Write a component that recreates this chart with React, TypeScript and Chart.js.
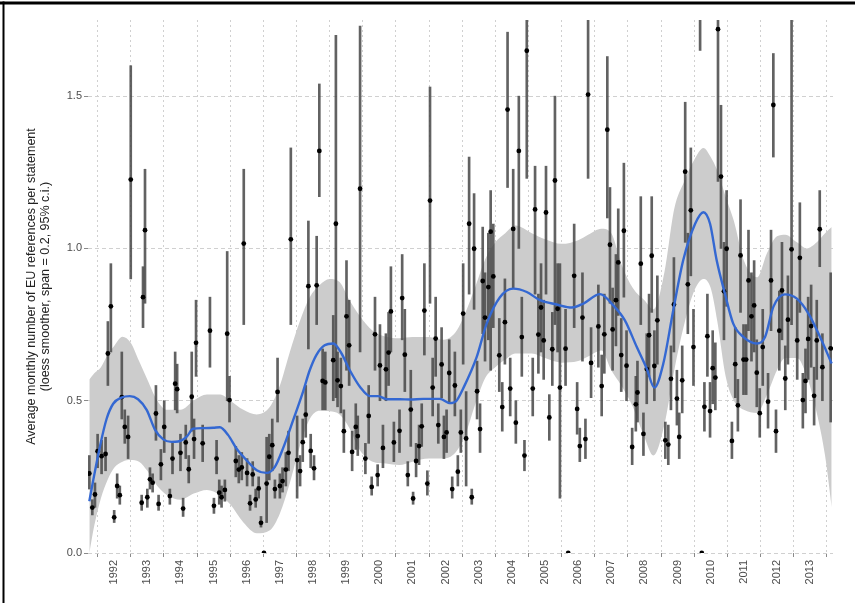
import React, { useEffect, useRef } from "react";
import { Chart, registerables } from "chart.js";

Chart.register(...registerables);

// Monthly observations (decimal year), mean and 95% interval
const years = [
  1991.25, 1991.34, 1991.42, 1991.5, 1991.62, 1991.74, 1991.81, 1991.9,
  1992.0, 1992.09, 1992.17, 1992.23, 1992.32, 1992.42, 1992.5, 1992.83, 1992.87, 1992.93,
  1993.0, 1993.08, 1993.16, 1993.26, 1993.34, 1993.41, 1993.51, 1993.68, 1993.76, 1993.84, 1993.9,
  1994.0, 1994.08, 1994.16, 1994.25, 1994.34, 1994.41, 1994.47, 1994.67, 1994.89,
  1995.01, 1995.09, 1995.17, 1995.24, 1995.34, 1995.41, 1995.48, 1995.67, 1995.76, 1995.85, 1995.91,
  1996.01, 1996.1, 1996.18, 1996.27, 1996.36, 1996.43, 1996.52, 1996.6, 1996.68, 1996.77, 1996.85, 1996.93,
  1997.0, 1997.08, 1997.18, 1997.26, 1997.33, 1997.52, 1997.61, 1997.69, 1997.78, 1997.86, 1997.93,
  1998.03, 1998.11, 1998.19, 1998.29, 1998.37, 1998.61, 1998.69, 1998.74, 1998.84, 1998.93,
  1999.01, 1999.09, 1999.18, 1999.29, 1999.35, 1999.42, 1999.58, 1999.68, 1999.77, 1999.87, 1999.95,
  2000.02, 2000.11, 2000.2, 2000.28, 2000.35, 2000.44, 2000.61, 2000.69, 2000.77, 2000.86, 2000.95,
  2001.02, 2001.11, 2001.2, 2001.28, 2001.36, 2001.45, 2001.53, 2001.61, 2001.7, 2001.78, 2001.88, 2001.95,
  2002.03, 2002.11, 2002.2, 2002.28, 2002.37, 2002.46, 2002.53, 2002.62, 2002.71, 2002.79, 2002.86, 2002.95,
  2003.04, 2003.12, 2003.19, 2003.29, 2003.36, 2003.44, 2003.62, 2003.71, 2003.79, 2003.87, 2003.95,
  2004.04, 2004.12, 2004.21, 2004.3, 2004.38, 2004.45, 2004.63, 2004.7, 2004.8, 2004.88, 2004.96,
  2005.03, 2005.13, 2005.22, 2005.3, 2005.38, 2005.45, 2005.62, 2005.7, 2005.88, 2005.97,
  2006.05, 2006.13, 2006.22, 2006.3, 2006.39, 2006.61, 2006.71, 2006.79, 2006.88, 2006.96,
  2007.04, 2007.14, 2007.21, 2007.3, 2007.38, 2007.46, 2007.63, 2007.74, 2007.79, 2007.89, 2007.97,
  2008.07, 2008.14, 2008.22, 2008.3, 2008.39, 2008.63, 2008.72, 2008.8, 2008.89, 2008.98,
  2009.05, 2009.14, 2009.23, 2009.31, 2009.4, 2009.48, 2009.68, 2009.73, 2009.81, 2009.9, 2009.98,
  2010.06, 2010.14, 2010.22, 2010.31, 2010.4, 2010.48, 2010.64, 2010.74, 2010.82, 2010.9, 2010.99,
  2011.07, 2011.14, 2011.23, 2011.31, 2011.39, 2011.48, 2011.57, 2011.73, 2011.82, 2011.89, 2011.97,
  2012.07, 2012.15, 2012.25, 2012.33, 2012.44, 2012.61, 2012.69, 2012.78, 2012.86, 2012.94,
  2013.03, 2013.12, 2013.2, 2013.29, 2013.37, 2013.62,
];

const means = [
  0.261, 0.149, 0.192, 0.334, 0.318, 0.325, 0.655, 0.81,
  0.117, 0.22, 0.19, 0.512, 0.414, 0.381, 1.226, 0.165, 0.84, 1.06,
  0.183, 0.242, 0.231, 0.458, 0.161, 0.291, 0.414, 0.187, 0.31, 0.556, 0.538,
  0.329, 0.146, 0.363, 0.275, 0.513, 0.374, 0.69, 0.36, 0.73,
  0.155, 0.31, 0.198, 0.183, 0.207, 0.72, 0.502, 0.302, 0.274, 0.281, 1.016,
  0.263, 0.163, 0.258, 0.176, 0.212, 0.099, 0.0, 0.228, 0.316, 0.354, 0.21, 0.529,
  0.22, 0.236, 0.274, 0.329, 1.03, 0.305, 0.269, 0.364, 0.454, 0.876, 0.335,
  0.278, 0.879, 1.32, 0.565, 0.56, 0.633, 1.081, 0.567, 0.548, 0.4,
  0.777, 0.682, 0.332, 0.414, 0.384, 1.196, 0.31, 0.45, 0.217, 0.718, 0.256,
  0.616, 0.345, 0.603, 0.658, 0.793, 0.363, 0.401, 0.837, 0.651, 0.256, 0.471,
  0.179, 0.302, 0.351, 0.416, 0.796, 0.228, 1.157, 0.543, 0.704, 0.42, 0.619, 0.381,
  0.396, 0.591, 0.21, 0.55, 0.267, 0.396, 0.786, 0.376, 1.081, 0.183, 0.999, 0.531,
  0.407, 0.893, 0.773, 0.873, 1.055, 0.908, 0.649, 0.479, 0.758, 1.456, 0.54,
  1.064, 0.428, 1.32, 0.709, 0.32, 1.649, 0.54, 1.128, 0.717, 0.806, 0.698,
  1.118, 0.445, 0.669, 1.223, 0.802, 0.543, 0.671, 0.0, 0.91, 0.473,
  0.351, 0.773, 0.374, 1.505, 0.624, 0.744, 0.548, 0.718, 1.39, 1.012,
  0.734, 0.83, 0.954, 0.65, 1.058, 0.615, 0.348, 0.488, 0.527, 0.95, 0.391,
  0.604, 0.715, 0.976, 0.614, 0.764, 0.37, 0.356, 0.572, 0.816, 0.507,
  0.381, 0.567, 1.252, 0.882, 1.125, 0.676, 1.8, 0.0, 0.48, 0.712, 0.466,
  0.607, 0.576, 1.72, 1.236, 0.859, 0.999, 0.368, 0.62, 0.485, 0.977, 0.635,
  0.635, 0.895, 0.777, 0.813, 0.592, 0.459, 0.676, 0.497, 0.895, 1.471, 0.4,
  0.73, 0.862, 0.573, 0.766, 0.997, 0.698, 0.969, 0.502, 0.565, 0.703,
  0.745, 0.516, 0.698, 1.063, 0.61, 0.672,
];

const lowers = [
  0.21, 0.125, 0.15, 0.28, 0.26, 0.27, 0.55, 0.66,
  0.1, 0.18, 0.16, 0.44, 0.36, 0.31, 0.9, 0.14, 0.74, 0.82,
  0.15, 0.21, 0.2, 0.37, 0.14, 0.24, 0.33, 0.16, 0.26, 0.47, 0.46,
  0.27, 0.12, 0.31, 0.23, 0.4, 0.31, 0.58, 0.3, 0.61,
  0.13, 0.26, 0.16, 0.15, 0.17, 0.5, 0.43, 0.25, 0.23, 0.24, 0.75,
  0.22, 0.14, 0.22, 0.15, 0.18, 0.085, 0.0, 0.1, 0.24, 0.27, 0.18, 0.43,
  0.18, 0.2, 0.22, 0.27, 0.75, 0.18, 0.22, 0.3, 0.38, 0.67, 0.28,
  0.24, 0.75, 1.17, 0.47, 0.47, 0.5, 0.51, 0.48, 0.46, 0.33,
  0.6, 0.55, 0.27, 0.34, 0.32, 0.66, 0.26, 0.36, 0.19, 0.6, 0.22,
  0.5, 0.28, 0.5, 0.55, 0.66, 0.3, 0.33, 0.7, 0.53, 0.22, 0.35,
  0.16, 0.25, 0.29, 0.35, 0.65, 0.19, 0.82, 0.45, 0.58, 0.36, 0.51, 0.31,
  0.33, 0.49, 0.18, 0.45, 0.22, 0.33, 0.62, 0.22, 0.85, 0.16, 0.8, 0.44,
  0.33, 0.72, 0.63, 0.7, 0.6, 0.74, 0.53, 0.4, 0.62, 1.2, 0.45,
  0.87, 0.36, 1.0, 0.58, 0.27, 1.23, 0.45, 0.85, 0.59, 0.66, 0.57,
  0.85, 0.37, 0.55, 0.75, 0.66, 0.18, 0.55, 0.0, 0.74, 0.39,
  0.3, 0.63, 0.31, 1.23, 0.51, 0.61, 0.45, 0.59, 1.1, 0.82,
  0.6, 0.68, 0.78, 0.53, 0.84, 0.5, 0.29, 0.4, 0.43, 0.75, 0.32,
  0.49, 0.58, 0.79, 0.5, 0.62, 0.31, 0.29, 0.47, 0.66, 0.42,
  0.31, 0.46, 1.02, 0.72, 0.91, 0.55, 1.65, 0.0, 0.4, 0.58, 0.38,
  0.49, 0.47, 1.22, 1.0, 0.7, 0.81, 0.31, 0.51, 0.4, 0.79, 0.52,
  0.52, 0.73, 0.63, 0.66, 0.48, 0.38, 0.55, 0.41, 0.73, 1.3, 0.33,
  0.6, 0.7, 0.47, 0.62, 0.75, 0.57, 0.79, 0.41, 0.46, 0.57,
  0.61, 0.42, 0.57, 0.94, 0.5, 0.43,
];

const uppers = [
  0.32, 0.175, 0.23, 0.39, 0.37, 0.38, 0.76, 0.95,
  0.14, 0.26, 0.22, 0.66, 0.47, 0.45, 1.6, 0.19, 0.94, 1.26,
  0.21, 0.28, 0.26, 0.55, 0.19, 0.34, 0.5, 0.21, 0.36, 0.66, 0.62,
  0.39, 0.18, 0.42, 0.32, 0.66, 0.44, 0.83, 0.42, 0.84,
  0.18, 0.37, 0.24, 0.22, 0.24, 0.99, 0.58, 0.35, 0.32, 0.33, 1.26,
  0.31, 0.19, 0.3, 0.21, 0.25, 0.12, 0.0, 0.38, 0.39, 0.44, 0.24, 0.64,
  0.26, 0.28, 0.33, 0.4, 1.33, 0.45, 0.32, 0.44, 0.55, 1.09, 0.39,
  0.32, 1.04, 1.54, 0.67, 0.66, 0.78, 1.7, 0.66, 0.64, 0.47,
  0.96, 0.83, 0.4, 0.49, 0.45, 1.73, 0.36, 0.55, 0.25, 0.84, 0.29,
  0.75, 0.42, 0.72, 0.79, 0.94, 0.43, 0.47, 0.98, 0.8, 0.3, 0.6,
  0.2, 0.36, 0.42, 0.49, 0.95, 0.27, 1.53, 0.64, 0.84, 0.49, 0.74, 0.45,
  0.47, 0.7, 0.25, 0.66, 0.32, 0.47, 0.95, 0.53, 1.3, 0.21, 1.18, 0.63,
  0.49, 1.07, 0.92, 1.05, 1.19, 1.08, 0.77, 0.56, 0.9, 1.71, 0.64,
  1.26, 0.5, 1.5, 0.84, 0.37, 1.8, 0.64, 1.27, 0.85, 0.95, 0.83,
  1.27, 0.52, 0.79, 1.5, 0.95, 0.95, 0.8, 0.0, 1.08, 0.56,
  0.41, 0.92, 0.44, 1.8, 0.74, 0.88, 0.65, 0.85, 1.63, 1.2,
  0.87, 0.98, 1.13, 0.77, 1.28, 0.73, 0.41, 0.58, 0.63, 1.17, 0.46,
  0.72, 0.85, 1.17, 0.73, 0.91, 0.43, 0.42, 0.68, 0.97, 0.6,
  0.46, 0.68, 1.48, 1.05, 1.33, 0.8, 2.0, 0.0, 0.56, 0.85, 0.56,
  0.73, 0.69, 1.9, 1.47, 1.02, 1.19, 0.43, 0.74, 0.57, 1.16, 0.75,
  0.75, 1.06, 0.92, 0.96, 0.7, 0.54, 0.8, 0.59, 1.06, 1.64, 0.47,
  0.86, 1.02, 0.68, 0.91, 1.75, 0.83, 1.15, 0.59, 0.67, 0.84,
  0.88, 0.61, 0.83, 1.19, 0.72, 0.92,
];

// Loess smoother
const smoothX = [
  1991.25, 1991.37, 1991.57, 1991.77, 1991.97, 1992.22, 1992.47, 1992.72, 1992.98,
  1993.23, 1993.48, 1993.73, 1993.93, 1994.19, 1994.38, 1994.69, 1994.99, 1995.19,
  1995.44, 1995.69, 1995.99, 1996.3, 1996.6, 1996.85, 1997.1, 1997.4, 1997.7, 1997.9,
  1998.1, 1998.35, 1998.61, 1998.86, 1999.11, 1999.42, 1999.72, 1999.97, 2000.22,
  2000.62, 2000.93, 2001.33, 2001.83, 2002.13, 2002.33, 2002.53, 2002.94, 2003.24,
  2003.64, 2004.04, 2004.45, 2004.85, 2005.35, 2005.81, 2006.16, 2006.66, 2007.06,
  2007.41, 2007.77, 2008.07, 2008.3, 2008.57, 2008.87, 2009.17, 2009.53, 2009.78,
  2009.98, 2010.18, 2010.43, 2010.68, 2010.99, 2011.39, 2011.64, 2011.89, 2012.24,
  2012.6, 2012.95, 2013.3, 2013.65,
];
const smoothY = [
  0.17, 0.24, 0.35, 0.44, 0.49, 0.51, 0.515, 0.505, 0.47,
  0.405, 0.373, 0.365, 0.366, 0.382, 0.408, 0.41, 0.411, 0.413,
  0.387, 0.343, 0.305, 0.272, 0.263, 0.283, 0.345, 0.436, 0.53, 0.6,
  0.65, 0.682, 0.688, 0.655, 0.6, 0.545, 0.515, 0.515, 0.505,
  0.505, 0.504, 0.506, 0.506, 0.492, 0.5, 0.54, 0.644, 0.753,
  0.84, 0.868, 0.857, 0.83, 0.816, 0.806, 0.819, 0.85, 0.813,
  0.764, 0.676, 0.605, 0.543, 0.622, 0.797, 0.961, 1.081, 1.119,
  1.081, 0.961, 0.851, 0.753, 0.709, 0.688, 0.709, 0.808, 0.849,
  0.835, 0.786, 0.709, 0.622,
];

// 95% confidence band of the smoother
const bandX = [
  1991.25, 1991.4, 1991.6, 1991.8, 1992.0, 1992.25, 1992.5, 1992.75, 1993.0, 1993.3,
  1993.6, 1994.0, 1994.4, 1994.8, 1995.2, 1995.5, 1995.9, 1996.3, 1996.7, 1997.0,
  1997.3, 1997.6, 1997.9, 1998.2, 1998.5, 1998.8, 1999.1, 1999.4, 1999.8, 2000.2,
  2000.6, 2001.0, 2001.5, 2001.9, 2002.3, 2002.6, 2002.9, 2003.2, 2003.5, 2003.8,
  2004.1, 2004.6, 2005.0, 2005.5, 2006.0, 2006.3, 2006.7, 2007.0, 2007.3, 2007.65,
  2008.0, 2008.27, 2008.6, 2008.9, 2009.2, 2009.5, 2009.78, 2010.0, 2010.2, 2010.45,
  2010.7, 2011.0, 2011.4, 2011.7, 2012.0, 2012.25, 2012.6, 2012.9, 2013.2, 2013.45,
  2013.65,
];
const bandUpper = [
  0.57, 0.59, 0.61, 0.65, 0.68, 0.71, 0.69, 0.63, 0.57, 0.5,
  0.47, 0.47, 0.5, 0.52, 0.52, 0.5, 0.47, 0.455, 0.48, 0.55,
  0.66, 0.76, 0.84, 0.88, 0.9, 0.89, 0.83, 0.78, 0.73, 0.71,
  0.705, 0.709, 0.709, 0.7, 0.725, 0.79, 0.875, 0.965, 1.02, 1.05,
  1.075, 1.05, 1.03, 1.015, 1.027, 1.045, 1.065, 1.05, 0.95, 0.87,
  0.83, 0.8, 0.92, 1.13, 1.22, 1.29, 1.33, 1.3, 1.255, 1.17,
  1.09, 0.96, 0.905, 0.985, 1.04, 1.045, 1.02, 1.0, 1.02, 1.05,
  1.07,
];
const bandLower = [
  0.0, 0.09, 0.18, 0.24, 0.28, 0.3, 0.305, 0.3, 0.27, 0.22,
  0.19, 0.175, 0.195, 0.207, 0.19, 0.16, 0.1, 0.065, 0.075, 0.13,
  0.23, 0.35, 0.44, 0.467, 0.465, 0.455, 0.41, 0.34, 0.3, 0.294,
  0.289, 0.3, 0.31, 0.31, 0.33, 0.39, 0.49, 0.575, 0.61, 0.635,
  0.655, 0.655, 0.64, 0.625, 0.63, 0.645, 0.665, 0.6, 0.55, 0.48,
  0.38, 0.32, 0.42, 0.6, 0.75, 0.86, 0.9, 0.87, 0.76, 0.58,
  0.5, 0.47, 0.46, 0.52, 0.6, 0.64, 0.64, 0.58, 0.46, 0.32,
  0.15,
];

const yearTicks = [
  1992, 1993, 1994, 1995, 1996, 1997, 1998, 1999, 2000, 2001, 2002,
  2003, 2004, 2005, 2006, 2007, 2008, 2009, 2010, 2011, 2012, 2013,
];
const valueTicks = [0, 0.5, 1.0, 1.5];
const yTitle = [
  "Average monthly number of EU references per statement",
  "(loess smoother, span = 0.2, 95% c.i.)",
];

const FONT = "'Liberation Sans', Arial, Helvetica, sans-serif";

const framePlugin = {
  id: "frame",
  afterDraw(chart: any) {
    const ctx = chart.ctx;
    ctx.save();
    ctx.fillStyle = "#000";
    ctx.fillRect(0, 1.5, chart.width, 3);
    ctx.fillRect(2.5, 1.5, 2, chart.height);
    ctx.restore();
  },
};

export default function App() {
  const ref = useRef<HTMLCanvasElement | null>(null);

  useEffect(() => {
    if (!ref.current) return;
    const chart = new Chart(ref.current, {
      type: "scatter",
      data: {
        datasets: [
          {
            type: "line",
            label: "lower",
            data: bandX.map((x, i) => ({ x, y: bandLower[i] })),
            borderWidth: 0,
            borderColor: "rgba(0,0,0,0)",
            pointRadius: 0,
            fill: false,
            cubicInterpolationMode: "monotone",
            order: 5,
            clip: 0,
          } as any,
          {
            type: "line",
            label: "upper",
            data: bandX.map((x, i) => ({ x, y: bandUpper[i] })),
            borderWidth: 0,
            borderColor: "rgba(0,0,0,0)",
            backgroundColor: "rgb(204,204,204)",
            pointRadius: 0,
            fill: "-1",
            cubicInterpolationMode: "monotone",
            order: 4,
            clip: 0,
          } as any,
          {
            type: "bar",
            label: "ci",
            data: years.map((x, i) => ({ x, y: [lowers[i], uppers[i]] })),
            backgroundColor: "rgba(70,70,70,0.85)",
            borderWidth: 0,
            barThickness: 2,
            grouped: false,
            order: 3,
            clip: 0,
          } as any,
          {
            type: "scatter",
            label: "mean",
            data: years.map((x, i) => ({ x, y: means[i] })),
            pointRadius: 2.4,
            pointBackgroundColor: "#000",
            pointBorderWidth: 0,
            order: 2,
            clip: 0,
          } as any,
          {
            type: "line",
            label: "loess",
            data: smoothX.map((x, i) => ({ x, y: smoothY[i] })),
            borderColor: "#3468d2",
            borderWidth: 2.4,
            pointRadius: 0,
            fill: false,
            cubicInterpolationMode: "monotone",
            order: 1,
            clip: 0,
          } as any,
        ],
      },
      options: {
        animation: false,
        responsive: true,
        maintainAspectRatio: false,
        layout: { padding: { left: 0, top: 20, right: 22, bottom: 0 } },
        plugins: {
          legend: { display: false },
          tooltip: { enabled: false },
        },
        scales: {
          x: {
            type: "linear",
            min: 1991.21,
            max: 2013.69,
            offset: false,
            afterBuildTicks: (scale: any) => {
              scale.ticks = yearTicks.map((v) => ({ value: v }));
            },
            afterFit: (scale: any) => {
              scale.height = 50;
            },
            ticks: {
              autoSkip: false,
              maxRotation: 90,
              minRotation: 90,
              padding: 3,
              color: "#4d4d4d",
              font: { family: FONT, size: 11 },
              callback: (v: any) => String(v),
            },
            grid: {
              color: "#d0d0d0",
              lineWidth: 1,
              drawTicks: true,
              tickLength: 4,
              tickColor: "#8a8a8a",
              tickBorderDash: [],
            },
            border: { display: false, dash: [2, 3] },
          },
          y: {
            type: "linear",
            min: 0,
            max: 1.75,
            afterBuildTicks: (scale: any) => {
              scale.ticks = valueTicks.map((v) => ({ value: v }));
            },
            afterFit: (scale: any) => {
              scale.width = 88;
            },
            ticks: {
              padding: 2,
              color: "#4d4d4d",
              font: { family: FONT, size: 11 },
              callback: (v: any) => Number(v).toFixed(1),
            },
            grid: {
              color: "#d0d0d0",
              lineWidth: 1,
              drawTicks: true,
              tickLength: 4,
              tickColor: "#8a8a8a",
              tickBorderDash: [],
            },
            border: { display: false, dash: [4, 3] },
            title: {
              display: true,
              text: yTitle,
              color: "#222",
              font: { family: FONT, size: 12.5, lineHeight: 1.1 },
              padding: { top: 25, bottom: 0 },
            },
          },
        },
      },
      plugins: [framePlugin],
    } as any);
    return () => chart.destroy();
  }, []);

  return (
    <div style={{ position: "absolute", left: 0, top: 0, width: 855, height: 603, background: "#fff" }}>
      <canvas ref={ref} />
    </div>
  );
}
